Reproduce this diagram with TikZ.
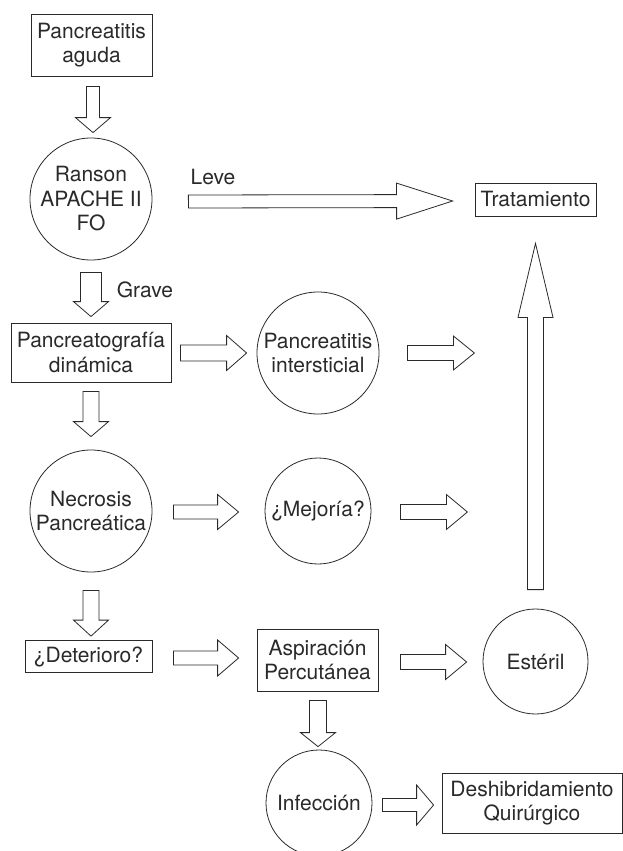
\documentclass[tikz,border=0pt]{standalone}
\usepackage{fontspec}
\setmainfont{TeX Gyre Heros}
\usetikzlibrary{calc}
\definecolor{ink}{HTML}{2A2A2A}
\newcommand{\fatarrow}[5]{%
  \coordinate (hb) at ($(#2)!#5!(#1)$);
  \draw[fatarr] ($(#1)!#3!90:(#2)$) -- ($(hb)!#3!90:(#2)$) -- ($(hb)!#4!90:(#2)$) -- (#2)
    -- ($(hb)!#4!-90:(#2)$) -- ($(hb)!#3!-90:(#2)$) -- ($(#1)!#3!-90:(#2)$) -- cycle;}
\begin{document}
\begin{tikzpicture}[x=1pt,y=-1pt,
  every node/.style={font=\fontsize{21}{24.5}\selectfont, text=ink, align=center, inner sep=0pt},
  boxnode/.style={draw=ink, line width=0.8pt, rectangle},
  ringnode/.style={draw=ink, line width=0.8pt, circle},
  fatarr/.style={draw=ink, line width=0.8pt, line join=miter, fill=white}]
\clip (0,0) rectangle (623,851);
\fill[white] (0,0) rectangle (623,851);
% nodes
\node[boxnode, minimum width=121pt, minimum height=62pt] (pa) at (91.5,45) {Pancreatitis\\aguda};
\node[ringnode, minimum size=122pt] (ranson) at (91,199) {Ranson\\APACHE II\\FO};
\node[boxnode, minimum width=121pt, minimum height=33pt] (trat) at (535.5,199.5) {Tratamiento};
\node[boxnode, minimum width=160pt, minimum height=59pt] (panc) at (91,352.5) {Pancreatografía\\dinámica};
\node[ringnode, minimum size=122pt] (inter) at (318,353) {Pancreatitis\\intersticial};
\node[ringnode, minimum size=122pt] (necro) at (91,511) {Necrosis\\Pancreática};
\node[ringnode, minimum size=106pt] (mej) at (318,511) {¿Mejoría?};
\node[boxnode, minimum width=127pt, minimum height=32pt] (det) at (88.5,656.5) {¿Deterioro?};
\node[boxnode, minimum width=121pt, minimum height=62pt] (asp) at (317.5,660) {Aspiración\\Percutánea};
\node[ringnode, minimum size=105pt] (est) at (535.5,661.5) {Estéril};
\node[ringnode, minimum size=106pt] (inf) at (319,803) {Infección};
\node[boxnode, minimum width=180pt, minimum height=60pt] (desh) at (532,803) {Deshibridamiento\\Quirúrgico};
\node (leve) at (213,177) {Leve};
\node (grave) at (145,290) {Grave};
% arrow end points
\coordinate (a1s) at ($(pa.south)+(1.5,10)$);
\coordinate (a1e) at ($(ranson.north)+(2,-5)$);
\coordinate (a2s) at ($(ranson.south)+(0,12)$);
\coordinate (a2e) at ($(panc.north)+(0,-6)$);
\coordinate (a3s) at ($(panc.south)+(0,9)$);
\coordinate (a3e) at ($(necro.north)+(0,-13)$);
\coordinate (a4s) at ($(necro.south)+(0,18)$);
\coordinate (a4e) at ($(det.north)+(2.5,-4)$);
\coordinate (a5s) at ($(asp.south)+(0.5,9)$);
\coordinate (a5e) at ($(inf.north)+(-1,-3)$);
\coordinate (a6s) at ($(ranson.east)+(36,2.5)$);
\coordinate (a6e) at ($(trat.west)+(-22,1.5)$);
\coordinate (a7s) at ($(panc.east)+(9,0.5)$);
\coordinate (a7e) at ($(inter.west)+(-10,0)$);
\coordinate (a8s) at ($(inter.east)+(28,0)$);
\coordinate (a8e) at ($(inter.east)+(95,0)$);
\coordinate (a9s) at ($(necro.east)+(21,1)$);
\coordinate (a9e) at ($(mej.west)+(-26,1)$);
\coordinate (a10s) at ($(mej.east)+(29,1)$);
\coordinate (a10e) at ($(mej.east)+(96,1)$);
\coordinate (a11s) at ($(det.east)+(21,1.5)$);
\coordinate (a11e) at ($(asp.west)+(-18,-2)$);
\coordinate (a12s) at ($(asp.east)+(22,2)$);
\coordinate (a12e) at ($(est.west)+(-16,0.5)$);
\coordinate (a13s) at ($(est.north)+(0,-19)$);
\coordinate (a13e) at ($(trat.south)+(0,27)$);
\coordinate (a14s) at ($(inf.east)+(10,2)$);
\coordinate (a14e) at ($(desh.west)+(-8,2)$);
% arrows
\fatarrow{a1s}{a1e}{6.5pt}{17.5pt}{15pt}
\fatarrow{a2s}{a2e}{10.5pt}{17.5pt}{15pt}
\fatarrow{a3s}{a3e}{8pt}{17.5pt}{15pt}
\fatarrow{a4s}{a4e}{8pt}{17.5pt}{16pt}
\fatarrow{a5s}{a5e}{8.5pt}{17.5pt}{14pt}
\fatarrow{a6s}{a6e}{6.5pt}{18pt}{56pt}
\fatarrow{a7s}{a7e}{8pt}{17.5pt}{20pt}
\fatarrow{a8s}{a8e}{7.5pt}{17pt}{21pt}
\fatarrow{a9s}{a9e}{7pt}{17.5pt}{21pt}
\fatarrow{a10s}{a10e}{7.5pt}{17.5pt}{21pt}
\fatarrow{a11s}{a11e}{7pt}{18pt}{21pt}
\fatarrow{a12s}{a12e}{7.5pt}{17.5pt}{21pt}
\fatarrow{a13s}{a13e}{8pt}{17.5pt}{74pt}
\fatarrow{a14s}{a14e}{6.5pt}{20pt}{17pt}
\end{tikzpicture}
\end{document}
